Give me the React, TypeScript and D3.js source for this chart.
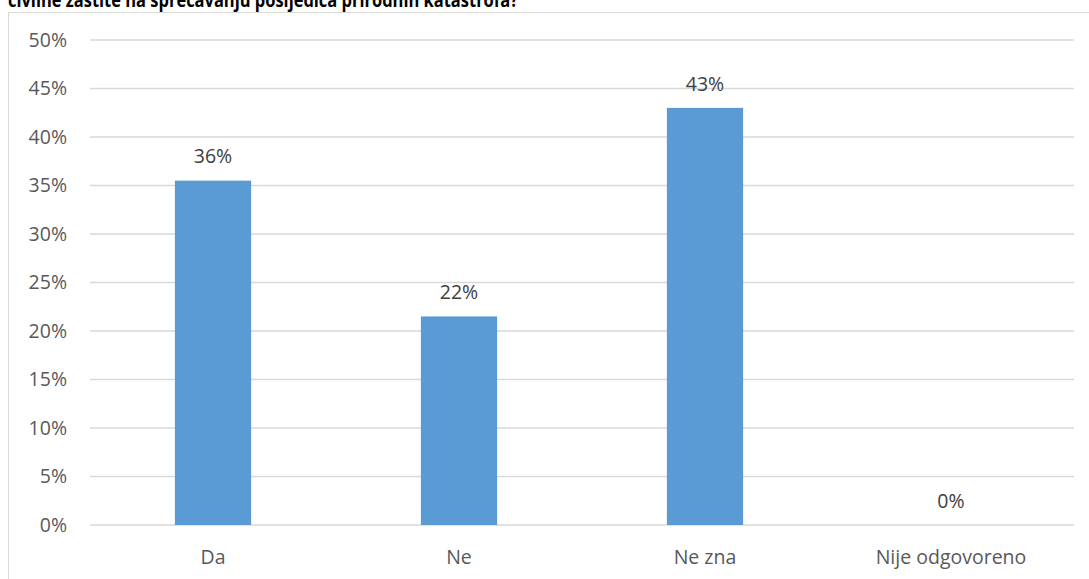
import React from "react";
import * as d3 from "d3";

const titleText = "civilne zaštite na sprečavanju posljedica prirodnih katastrofa?";
const categories = ["Da", "Ne", "Ne zna", "Nije odgovoreno"];
const values = [35.5, 21.5, 43, 0];
const valueLabels = ["36%", "22%", "43%", "0%"];
const yTicks = [0, 5, 10, 15, 20, 25, 30, 35, 40, 45, 50];

const W = 1089;
const H = 579;
const font = "'Open Sans', 'Noto Sans', sans-serif";

export default function App() {
  const x = d3.scaleBand<string>().domain(categories).range([90, 1074]).paddingInner(0.69).paddingOuter(0.345);
  const y = d3.scaleLinear().domain([0, 50]).range([525, 40]);
  return (
    <svg width={W} height={H} style={{ position: "absolute", left: 0, top: 0, background: "#fff" }}>
      <text x={8} y={7} fontFamily={font} fontWeight="bold" fontSize={19} fill="#000" textLength={510} lengthAdjust="spacingAndGlyphs">{titleText}</text>
      <rect x={8.5} y={12.5} width={1100} height={600} fill="none" stroke="#d9d9d9" strokeWidth={1} />
      {yTicks.map((t) => (
        <g key={t}>
          <line x1={90} x2={1074} y1={y(t)} y2={y(t)} stroke="#d9d9d9" strokeWidth={1.5} />
          <text x={67} y={y(t)} dy="0.35em" textAnchor="end" fontFamily={font} fontSize={19.5} fill="#595959">{t}%</text>
        </g>
      ))}
      {categories.map((c, i) => (
        <g key={c}>
          <rect x={x(c)!} width={x.bandwidth()} y={y(values[i])} height={y(0) - y(values[i])} fill="#5b9bd5" />
          <text x={x(c)! + x.bandwidth() / 2} y={y(values[i]) - 24} dy="0.35em" textAnchor="middle" fontFamily={font} fontSize={19.5} fill="#404040">{valueLabels[i]}</text>
          <text x={x(c)! + x.bandwidth() / 2} y={557} dy="0.35em" textAnchor="middle" fontFamily={font} fontSize={19.5} fill="#595959">{c}</text>
        </g>
      ))}
    </svg>
  );
}
